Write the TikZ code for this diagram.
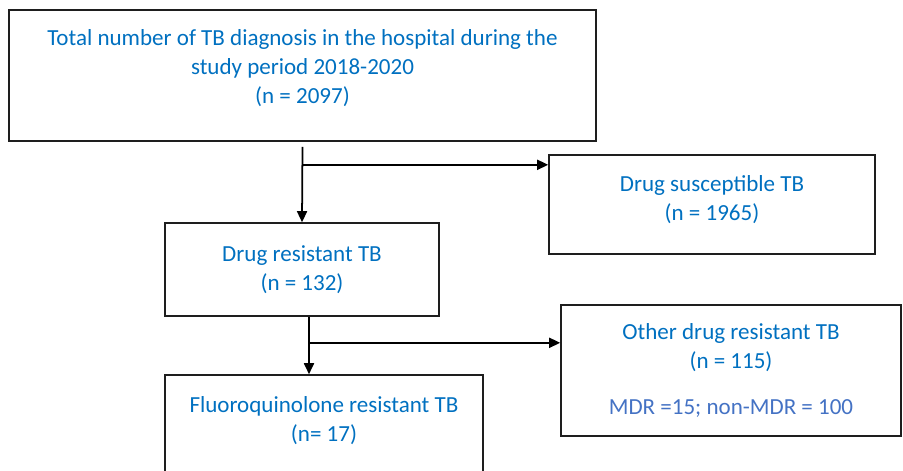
\documentclass[tikz,border=0pt]{standalone}
\usepackage{fontspec}
\setmainfont{Carlito}
\usepackage{xcolor}
\usetikzlibrary{arrows.meta,calc}
\definecolor{wordblue}{RGB}{0,112,192}
\definecolor{accentblue}{RGB}{68,114,196}
\definecolor{boxdark}{RGB}{30,30,30}

\begin{document}
\begin{tikzpicture}[
    every node/.style={font=\fontsize{13.1}{16.4}\selectfont, align=center, text=wordblue},
    flowbox/.style={rectangle, draw=boxdark, line width=0.9pt, inner sep=2pt},
    arr/.style={-{Triangle[length=0.22cm, width=0.2cm]}, line width=1pt, draw=black}
]
\useasboundingbox (0,0) rectangle (18.06,-9.4);

\node[flowbox, minimum width=11.74cm, minimum height=2.62cm, text depth=0.35cm] (total) at (6.05,-1.51)
    {Total number of TB diagnosis in the hospital during the\\study period 2018-2020\\(n = 2097)};
\node[flowbox, minimum width=6.52cm, minimum height=1.98cm, text depth=0.25cm] (susceptible) at (14.24,-4.09)
    {Drug susceptible TB\\(n = 1965)};
\node[flowbox, minimum width=5.48cm, minimum height=1.86cm] (resistant) at (6.04,-5.39)
    {Drug resistant TB\\(n = 132)};
\node[flowbox, minimum width=6.36cm, minimum height=2.2cm, text depth=0.45cm] (fluoro) at (6.48,-8.6)
    {Fluoroquinolone resistant TB\\(n= 17)};
\node[flowbox, minimum width=6.8cm, minimum height=2.62cm] (other) at (14.62,-7.41)
    {Other drug resistant TB\\(n = 115)\\[0.36cm]\textcolor{accentblue}{MDR =15; non-MDR = 100}};

\coordinate (split1) at ([yshift=-0.46cm]total.south);
\coordinate (split2) at ([xshift=0.14cm, yshift=-0.52cm]resistant.south);

\draw[arr] ([yshift=-0.1cm]total.south) -- (resistant.north);
\draw[arr] (split1) -- (susceptible.west |- split1);
\draw[arr] ([xshift=0.14cm]resistant.south) -- ([xshift=0.14cm]resistant.south |- fluoro.north);
\draw[arr] (split2) -- (other.west |- split2);

\end{tikzpicture}
\end{document}
